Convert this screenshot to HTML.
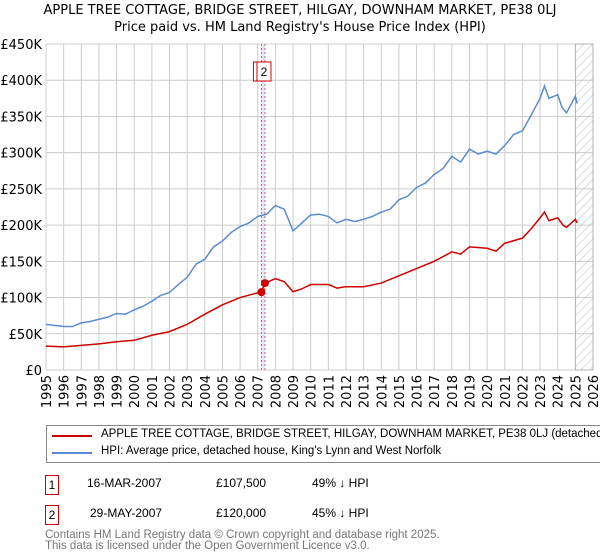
<!DOCTYPE html>
<html><head><meta charset="utf-8"><style>
body{margin:0;width:600px;height:560px;background:#fff;font-family:"Liberation Sans","DejaVu Sans",sans-serif;overflow:hidden;position:relative}
.t{position:absolute;font-size:12px;color:#000;white-space:nowrap}
</style></head><body>
<svg width="600" height="560" style="position:absolute;left:0;top:0">
<defs><pattern id="h" width="6" height="6" patternUnits="userSpaceOnUse" patternTransform="rotate(45)"><line x1="0" y1="0" x2="0" y2="6" stroke="#bbb" stroke-width="1"/></pattern></defs>
<text x="300" y="14" text-anchor="middle" font-size="13" font-family="DejaVu Sans,sans-serif">APPLE TREE COTTAGE, BRIDGE STREET, HILGAY, DOWNHAM MARKET, PE38 0LJ</text>
<text x="300" y="31" text-anchor="middle" font-size="13" font-family="DejaVu Sans,sans-serif">Price paid vs. HM Land Registry's House Price Index (HPI)</text>
<g id="grid"></g><g id="marks"></g>
</svg>
<div style="position:absolute;left:46px;top:425px;width:560px;height:36px;border:1px solid #888;overflow:hidden">
 <div style="position:absolute;left:5px;top:9px;width:40px;height:2px;background:#cc0000"></div>
 <div class="t" style="left:54px;top:2px;font-size:11.5px">APPLE TREE COTTAGE, BRIDGE STREET, HILGAY, DOWNHAM MARKET, PE38 0LJ (detached house)</div>
 <div style="position:absolute;left:5px;top:26px;width:40px;height:2px;background:#5b8bd0"></div>
 <div class="t" style="left:54px;top:19px;font-size:11.5px">HPI: Average price, detached house, King's Lynn and West Norfolk</div>
</div>
<div style="position:absolute;left:45px;top:475px;width:12px;height:18px;border:1px solid #cc0000;font-size:12px;text-align:center;line-height:18px">1</div>
<div class="t" style="left:87px;top:476px">16-MAR-2007</div>
<div class="t" style="left:216px;top:476px">£107,500</div>
<div class="t" style="left:312px;top:476px">49% ↓ HPI</div>
<div style="position:absolute;left:45px;top:505px;width:12px;height:18px;border:1px solid #cc0000;font-size:12px;text-align:center;line-height:18px">2</div>
<div class="t" style="left:90px;top:506px">29-MAY-2007</div>
<div class="t" style="left:216px;top:506px">£120,000</div>
<div class="t" style="left:312px;top:506px">45% ↓ HPI</div>
<div class="t" style="left:45px;top:530px;color:#777;font-size:11.5px;line-height:11px">Contains HM Land Registry data © Crown copyright and database right 2025.<br>This data is licensed under the Open Government Licence v3.0.</div>
<script>
const hpiYears=[1995,1996,1996.5,1997,1997.5,1998,1998.5,1999,1999.5,2000,2000.5,2001,2001.5,2002,2002.5,2003,2003.5,2004,2004.5,2005,2005.5,2006,2006.5,2007,2007.5,2008,2008.5,2009,2009.5,2010,2010.5,2011,2011.5,2012,2012.5,2013,2013.5,2014,2014.5,2015,2015.5,2016,2016.5,2017,2017.5,2018,2018.5,2019,2019.5,2020,2020.5,2021,2021.5,2022,2022.5,2023,2023.25,2023.5,2024,2024.25,2024.5,2025,2025.1];
const hpiValues=[63,60,60,65,67,70,73,78,77,83,88,95,103,107,118,128,146,153,170,178,190,198,203,212,215,227,222,192,203,214,215,212,203,208,205,208,212,218,222,235,240,252,258,270,278,295,287,305,298,302,298,310,325,330,352,375,392,375,380,362,355,378,368];
const propYears=[1995,1996,1997,1998,1999,2000,2001,2002,2003,2004,2005,2006,2007.21,2007.41,2008,2008.5,2009,2009.5,2010,2011,2011.5,2012,2013,2014,2015,2016,2017,2018,2018.5,2019,2020,2020.5,2021,2022,2022.5,2023,2023.25,2023.5,2024,2024.3,2024.5,2025,2025.1];
const propValues=[33,32,34,36,39,41,48,53,63,77,90,100,108,120,126,122,108,112,118,118,113,115,115,120,130,140,150,163,160,170,168,164,175,182,195,210,218,206,210,200,197,208,203];
const saleYears=[2007.21,2007.41];
const saleValues=[107.5,120];
const yTicks=[0,50,100,150,200,250,300,350,400,450];
const yTickLabels=["£0","£50K","£100K","£150K","£200K","£250K","£300K","£350K","£400K","£450K"];
const xTicks=[1995,1996,1997,1998,1999,2000,2001,2002,2003,2004,2005,2006,2007,2008,2009,2010,2011,2012,2013,2014,2015,2016,2017,2018,2019,2020,2021,2022,2023,2024,2025,2026];
const X0=46,X1=593,Y0=370,Y1=44;
const x=y=>X0+(y-1995)/31*(X1-X0);
const yv=v=>Y0-v/450*(Y0-Y1);
const NS="http://www.w3.org/2000/svg";
const grid=document.getElementById('grid'),marks=document.getElementById('marks');
function mk(tag,attrs,parent){const e=document.createElementNS(NS,tag);for(const k in attrs)e.setAttribute(k,attrs[k]);parent.appendChild(e);return e;}
yTicks.forEach((v,i)=>{
 const l=mk('line',{x1:X0,x2:X1,y1:yv(v),y2:yv(v),stroke:'#ccc'},grid);
 
 
 const t=mk('text',{x:X0-4,y:yv(v)+5,'text-anchor':'end','font-size':'13','font-family':'DejaVu Sans,sans-serif'},grid);
 t.textContent=yTickLabels[i];
 
 
});
xTicks.forEach(yr=>{
 const l=mk('line',{x1:x(yr),x2:x(yr),y1:Y1,y2:Y0,stroke:'#ccc'},grid);
 
 
 const t=mk('text',{x:0,y:0,'font-size':'13','font-family':'DejaVu Sans,sans-serif','text-anchor':'end',transform:`translate(${x(yr)+5},${Y0+5}) rotate(-90)`},grid);
 t.textContent=yr;
 
 
});
const hatch=mk('rect',{x:x(2025),y:Y1,width:X1-x(2025),height:Y0-Y1,fill:'url(#h)',stroke:'#999','stroke-width':0.5},grid);


const band=mk('rect',{x:x(saleYears[0]),y:Y1,width:x(saleYears[1])-x(saleYears[0]),height:Y0-Y1,fill:'#dde8f6'},grid);


saleYears.forEach(s=>{
 const l=mk('line',{x1:x(s),x2:x(s),y1:Y1,y2:Y0,stroke:'#e06060','stroke-dasharray':'2,2'},grid);
 
 
});
mk('line',{x1:X0,x2:X0,y1:Y1,y2:Y0,stroke:'#ccc'},grid);
const hp=mk('polyline',{points:hpiYears.map((a,i)=>x(a)+','+yv(hpiValues[i])).join(' '),fill:'none',stroke:'#5b8bd0','stroke-width':1.5},marks);


const pp=mk('polyline',{points:propYears.map((a,i)=>x(a)+','+yv(propValues[i])).join(' '),fill:'none',stroke:'#cc0000','stroke-width':1.5},marks);


saleYears.forEach((s,i)=>{
 const c=mk('circle',{cx:x(s),cy:yv(saleValues[i]),r:4,fill:'#cc0000'},marks);
 
 
});
saleYears.forEach((s,i)=>{
 const g=mk('g',{},marks);
 
 
 mk('rect',{x:x(s)-8,y:62,width:14,height:19,fill:'#fff',stroke:'#cc0000'},g);
 const t=mk('text',{x:x(s)-1,y:76,'text-anchor':'middle','font-size':'12'},g);
 t.textContent=String(i+1);
});
</script>
</body></html>
